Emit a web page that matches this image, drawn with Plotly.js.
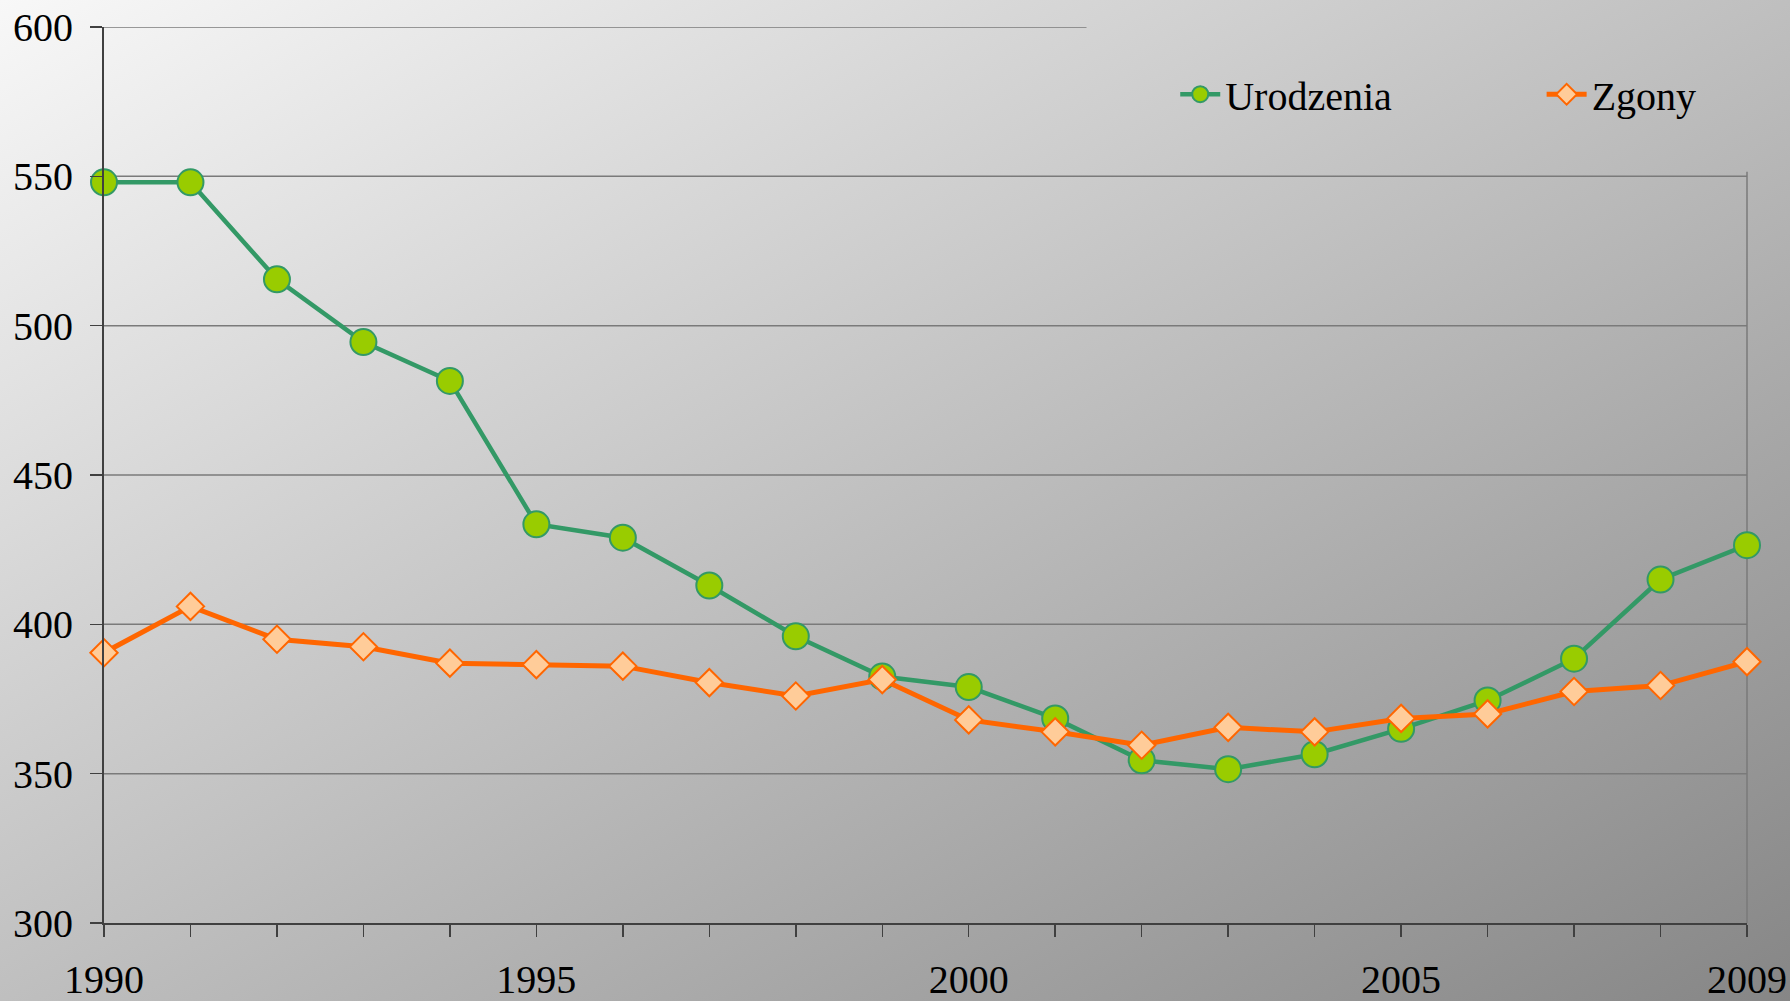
<!DOCTYPE html>
<html>
<head>
<meta charset="utf-8">
<script src="https://cdn.plot.ly/plotly-3.0.1.min.js"></script>
<style>
  html, body { margin: 0; padding: 0; }
  #chart { width: 1790px; height: 1001px; background: linear-gradient(to bottom right, #f8f8f8, #868686); }
</style>
</head>
<body>
<div id="chart"></div>
<script>
const years = [1990,1991,1992,1993,1994,1995,1996,1997,1998,1999,2000,2001,2002,2003,2004,2005,2006,2007,2008,2009];
const urodzenia = [548,548,515.5,494.5,481.5,433.5,429,413,396,382.5,379,368.5,354.5,351.5,356.5,365,374.5,388.5,415,426.5];
const zgony = [390.5,406,395,392.5,387,386.5,386,380.5,376,381.5,368,364,359.5,365.5,364,368.5,370,377.5,379.5,387.5];
const xTickLabels = ['1990','','','','','1995','','','','','2000','','','','','2005','','','','2009'];
const yTickVals = [300,350,400,450,500,550,600];
const gridVals = [350,400,450,500,550];

const font = 'Liberation Serif, Times New Roman, serif';

const traces = [
  {
    x: years, y: urodzenia, name: 'Urodzenia', type: 'scatter', mode: 'lines+markers',
    line: {color: '#339966', width: 4.5},
    marker: {symbol: 'circle', size: 26, color: '#99cc00', line: {color: '#339966', width: 2}},
    cliponaxis: false, legend: 'legend'
  },
  {
    x: years, y: zgony, name: 'Zgony', type: 'scatter', mode: 'lines+markers',
    line: {color: '#ff6600', width: 5},
    marker: {symbol: 'diamond', size: 21, color: '#ffcc99', line: {color: '#ff6600', width: 2}},
    cliponaxis: false, legend: 'legend2'
  }
];

const shapes = gridVals.map(v => ({
  type: 'line', xref: 'paper', yref: 'y', x0: 0, x1: 1, y0: v, y1: v,
  line: {color: '#7a7a7a', width: 1.5}, layer: 'below'
}));
shapes.push({type: 'line', xref: 'paper', yref: 'y', x0: 0, x1: 0.598, y0: 600, y1: 600,
  line: {color: '#7a7a7a', width: 1.5}, layer: 'below'});
shapes.push({type: 'line', xref: 'paper', yref: 'y', x0: 1, x1: 1, y0: 300, y1: 551.5,
  line: {color: '#7a7a7a', width: 1.5}, layer: 'below'});

const legendBase = {
  y: 0.925, xanchor: 'left', yanchor: 'middle',
  font: {family: font, size: 40, color: '#000'},
  bgcolor: 'rgba(0,0,0,0)', itemwidth: 40, itemsizing: 'trace'
};

const layout = {
  width: 1790, height: 1001,
  margin: {l: 104, r: 43, t: 27, b: 78},
  paper_bgcolor: 'rgba(0,0,0,0)',
  plot_bgcolor: 'rgba(0,0,0,0)',
  font: {family: font, color: '#000', size: 40},
  showlegend: true,
  legend: Object.assign({}, legendBase, {x: 0.652}),
  legend2: Object.assign({}, legendBase, {x: 0.875}),
  xaxis: {
    range: [1990, 2009], tickvals: years, ticktext: xTickLabels,
    showgrid: false, zeroline: false, showline: true, linecolor: '#404040', linewidth: 2,
    ticks: 'outside', ticklen: 12, tickwidth: 1.5, tickcolor: '#404040',
    tickfont: {family: font, size: 40, color: '#000'}, ticklabelstandoff: 8
  },
  yaxis: {
    range: [300, 600], tickvals: yTickVals,
    showgrid: false, zeroline: false, showline: true, linecolor: '#404040', linewidth: 2,
    ticks: 'outside', ticklen: 12, tickwidth: 1.5, tickcolor: '#404040',
    tickfont: {family: font, size: 40, color: '#000'}, ticklabelstandoff: 9
  },
  shapes: shapes
};

Plotly.newPlot('chart', traces, layout, {displayModeBar: false, staticPlot: true});
</script>
</body>
</html>
